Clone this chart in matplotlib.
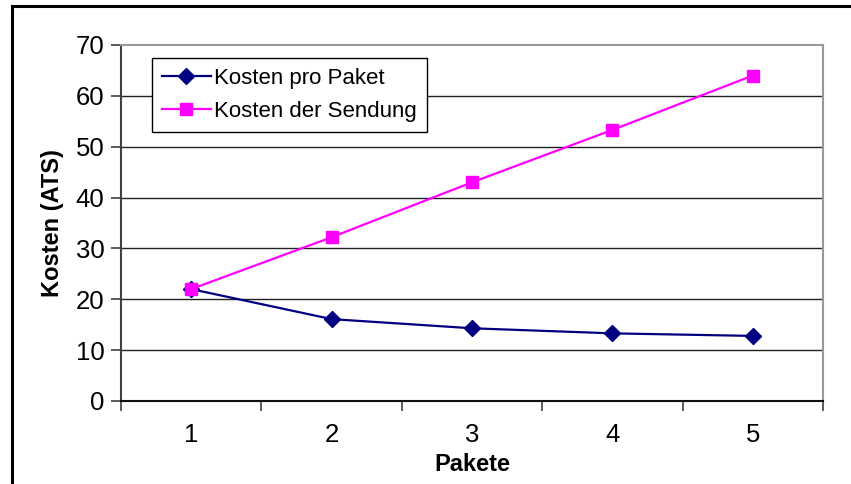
import matplotlib
matplotlib.use("Agg")
import matplotlib.pyplot as plt
from matplotlib.lines import Line2D
from matplotlib.ticker import MultipleLocator, FixedLocator

# Data
pakete = [1, 2, 3, 4, 5]
kosten_pro_paket = [22, 16.1, 14.3, 13.3, 12.8]
kosten_sendung = [22, 32.2, 43, 53.3, 64]
series_labels = ["Kosten pro Paket", "Kosten der Sendung"]
x_label = "Pakete"
y_label = "Kosten (ATS)"

plt.rcParams["font.family"] = ["Liberation Sans", "DejaVu Sans"]

W, H = 851, 484
fig = plt.figure(figsize=(W / 100, H / 100), dpi=100)
fig.patch.set_facecolor("white")

ax = fig.add_axes([121 / W, 1 - 401 / H, (823 - 121) / W, (401 - 45) / H])

ax.plot(pakete, kosten_pro_paket, color="#000080", lw=1.6, marker="D",
        markersize=8.2, markerfacecolor="#000080", markeredgecolor="#000080",
        label=series_labels[0], zorder=3)
ax.plot(pakete, kosten_sendung, color="#FF00FF", lw=1.6, marker="s",
        markersize=8, markerfacecolor="#FF00FF", markeredgecolor="#FF00FF",
        label=series_labels[1], zorder=4)

ax.set_xlim(0.5, 5.5)
ax.set_ylim(0, 70)
ax.set_xticks(pakete)
ax.set_xticklabels([str(p) for p in pakete])
ax.xaxis.set_minor_locator(FixedLocator([0.5 + i for i in range(6)]))
ax.yaxis.set_major_locator(MultipleLocator(10))

ax.tick_params(axis="x", which="major", length=0, labelsize=18.5, pad=16)
ax.tick_params(axis="x", which="minor", length=7, width=1.2, color="#404040",
               direction="out")
ax.tick_params(axis="y", which="major", length=7, width=1.2, color="#404040",
               direction="out", labelsize=18.5, pad=5)

for y in range(10, 70, 10):
    ax.axhline(y, color="#222222", lw=1.0, zorder=1)

ax.spines["left"].set_color("#404040")
ax.spines["left"].set_linewidth(1.5)
ax.spines["bottom"].set_color("#111111")
ax.spines["bottom"].set_linewidth(1.5)
ax.spines["top"].set_color("#999999")
ax.spines["top"].set_linewidth(1.5)
ax.spines["right"].set_color("#999999")
ax.spines["right"].set_linewidth(1.5)

ax.set_xlabel(x_label, fontsize=17, fontweight="bold", labelpad=4)
ax.set_ylabel(y_label, fontsize=17, fontweight="bold", labelpad=8)

leg = ax.legend(loc="upper left",
                bbox_to_anchor=((152 - 121) / 702, 1 - (58 - 45) / 356),
                fontsize=16, frameon=True, fancybox=False, edgecolor="black",
                framealpha=1, handlelength=2.2, handletextpad=0.15,
                labelspacing=0.55, borderpad=0.45, borderaxespad=0)
leg.get_frame().set_linewidth(1.0)

# Outer chart border (top and left edges)
fig.add_artist(Line2D([12 / W, 12 / W], [0, 1 - 6 / H], color="black", lw=2.2,
                      transform=fig.transFigure))
fig.add_artist(Line2D([12 / W, 1], [1 - 6 / H, 1 - 6 / H], color="black", lw=2.2,
                      transform=fig.transFigure))

fig.savefig("out.png", dpi=100)
